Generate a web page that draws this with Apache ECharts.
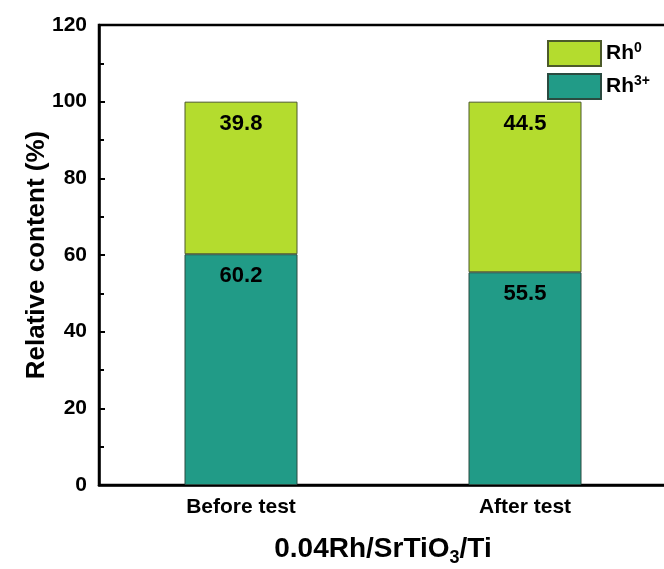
<!DOCTYPE html>
<html>
<head>
<meta charset="utf-8">
<script src="https://cdn.jsdelivr.net/npm/echarts@6/dist/echarts.min.js"></script>
<style>
  html, body { margin: 0; padding: 0; background: #fff; }
  #chart { width: 664px; height: 569px; }
</style>
</head>
<body>
<div id="chart"></div>
<script>
// Rh oxidation-state fractions for 0.04Rh/SrTiO3/Ti
const categories = ['Before test', 'After test'];
const rh3Values = [60.2, 55.5];
const rh0Values = [39.8, 44.5];
const yTicks = [0, 20, 40, 60, 80, 100, 120];

const FONT = 'Liberation Sans, Arial, sans-serif';
const rh3Color = '#219b87';
const rh0Color = '#b4dc2e';

const chart = echarts.init(document.getElementById('chart'));

const labelStyle = {
  show: true,
  position: 'insideTop',
  distance: 11,
  color: '#000',
  fontFamily: FONT,
  fontWeight: 'bold',
  fontSize: 22,
  formatter: p => p.value.toFixed(1)
};

chart.setOption({
  animation: false,
  backgroundColor: '#fff',
  grid: {
    left: 99, right: -3, top: 25, bottom: 84,
    outerBoundsMode: 'none',
    containLabel: false,
    show: true, borderColor: '#000', borderWidth: 2.5, backgroundColor: 'transparent'
  },
  legend: {
    data: ['Rh0', 'Rh3+'],
    orient: 'vertical',
    left: 542, top: 35,
    itemWidth: 53, itemHeight: 25, itemGap: 6,
    icon: 'rect',
    formatter: name => name === 'Rh0' ? '{b|Rh}{s|0}' : '{b|Rh}{s|3+}',
    textStyle: {
      padding: [0, 0, 0, 0],
      rich: {
        b: { fontFamily: FONT, fontWeight: 'bold', fontSize: 21, color: '#000' },
        s: { fontFamily: FONT, fontWeight: 'bold', fontSize: 14, color: '#000', verticalAlign: 'bottom', padding: [0, 0, 11, 0] }
      }
    }
  },
  xAxis: {
    type: 'category',
    data: categories,
    axisLine: { lineStyle: { color: '#000', width: 2.5 } },
    axisTick: { show: false },
    axisLabel: { color: '#000', fontFamily: FONT, fontWeight: 'bold', fontSize: 21, margin: 12 },
    name: '{m|0.04Rh/SrTiO}{sub|3}{m|/Ti}',
    nameLocation: 'middle',
    nameGap: 47,
    nameMoveOverlap: false,
    nameTextStyle: {
      rich: {
        m: { fontFamily: FONT, fontWeight: 'bold', fontSize: 28, color: '#000' },
        sub: { fontFamily: FONT, fontWeight: 'bold', fontSize: 18, color: '#000', verticalAlign: 'top', padding: [17, 0, 0, 0] }
      }
    }
  },
  yAxis: {
    type: 'value',
    min: yTicks[0],
    max: yTicks[yTicks.length - 1],
    interval: 20,
    axisLine: { show: true, lineStyle: { color: '#000', width: 2.5 } },
    axisTick: { show: true, inside: true, length: 6, lineStyle: { color: '#000', width: 2 } },
    minorTick: { show: true, splitNumber: 2, length: 5, lineStyle: { color: '#000', width: 2 } },
    splitLine: { show: false },
    axisLabel: { color: '#000', fontFamily: FONT, fontWeight: 'bold', fontSize: 21, margin: 12 },
    name: 'Relative content (%)',
    nameLocation: 'middle',
    nameGap: 49,
    nameMoveOverlap: false,
    nameTextStyle: { color: '#000', fontFamily: FONT, fontWeight: 'bold', fontSize: 26 }
  },
  series: [
    {
      name: 'Rh3+',
      type: 'bar',
      stack: 'rh',
      data: rh3Values,
      barWidth: 113,
      itemStyle: { color: rh3Color, borderColor: '#2a4a40', borderWidth: 1 },
      label: labelStyle
    },
    {
      name: 'Rh0',
      type: 'bar',
      stack: 'rh',
      data: rh0Values,
      barWidth: 113,
      itemStyle: { color: rh0Color, borderColor: '#4c5a2a', borderWidth: 1 },
      label: labelStyle
    }
  ]
});
</script>
</body>
</html>
